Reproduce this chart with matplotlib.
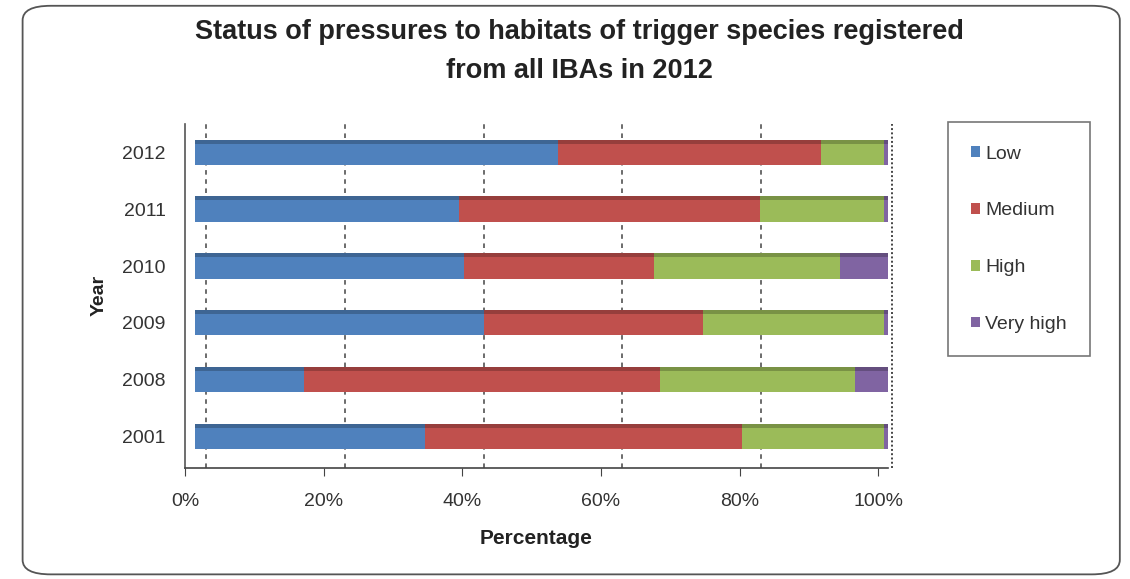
import numpy as np
import matplotlib
matplotlib.use("Agg")
import matplotlib.pyplot as plt
from matplotlib.patches import FancyBboxPatch
from matplotlib.colors import to_rgb

plt.rcParams['font.family'] = ['Liberation Sans', 'DejaVu Sans']

# data (percent of pressures per year)
years = ['2001', '2008', '2009', '2010', '2011', '2012']
low = [33.2, 15.8, 41.7, 38.9, 38.1, 52.4]
medium = [45.8, 51.4, 31.7, 27.3, 43.5, 38.0]
high = [20.4, 28.1, 26.0, 26.9, 17.8, 9.0]
very_high = [0.6, 4.7, 0.6, 6.9, 0.6, 0.6]

series = [('Low', low, '#4F81BD'),
          ('Medium', medium, '#C0504D'),
          ('High', high, '#9BBB59'),
          ('Very high', very_high, '#8064A2')]

fig = plt.figure(figsize=(11.3, 5.79), dpi=100)

# rounded frame around the whole chart
frame = FancyBboxPatch((0.02, 0.008), 0.971, 0.982, boxstyle="round,pad=0,rounding_size=0.025",
                       transform=fig.transFigure, fill=False, edgecolor='#555555', linewidth=1.3)
fig.patches.append(frame)

ax = fig.add_axes([0.1637, 0.192, 0.622, 0.594])

y = np.arange(len(years))
left = np.zeros(len(years))
for name, vals, col in series:
    vals = np.array(vals)
    ax.barh(y, vals, left=left, height=0.44, color=col, label=name, zorder=3)
    # darker top strip, a hint of the 3d bars
    dark = tuple(c * 0.78 for c in to_rgb(col))
    ax.barh(y + 0.19, vals, left=left, height=0.07, color=dark, zorder=4)
    left += vals

ax.set_xlim(-1, 100)
ax.set_ylim(-0.55, 5.5)
ax.set_xticks([-1.4, 18.6, 38.6, 58.6, 78.6, 98.6])
ax.set_xticklabels(['0%', '20%', '40%', '60%', '80%', '100%'], fontsize=14, color='#333333')
ax.set_yticks(y)
ax.set_yticklabels(years, fontsize=14, color='#333333')
ax.tick_params(axis='x', length=6, pad=12, color='#444444')
ax.tick_params(axis='y', length=0, pad=14)

for gx in [0, 20, 40, 60, 80]:
    ax.axvline(gx + 1.7, color='#444444', linestyle=(0, (3, 3)), linewidth=1.1, zorder=1)
ax.axvline(100.6, color='#444444', linestyle=(0, (1, 1.2)), linewidth=1.4, zorder=1, clip_on=False)

for s in ['top', 'right']:
    ax.spines[s].set_visible(False)
ax.spines['left'].set_color('#555555')
ax.spines['bottom'].set_color('#444444')
ax.spines['left'].set_linewidth(1.2)
ax.spines['bottom'].set_linewidth(1.2)

ax.set_xlabel('Percentage', fontsize=15, fontweight='bold', labelpad=14, color='#222222')
ax.set_ylabel('Year', fontsize=14, fontweight='bold', labelpad=10, color='#222222')

fig.text(0.513, 0.944, 'Status of pressures to habitats of trigger species registered',
         ha='center', va='center', fontsize=19.5, fontweight='bold', color='#222222')
fig.text(0.513, 0.878, 'from all IBAs in 2012',
         ha='center', va='center', fontsize=19.5, fontweight='bold', color='#222222')

leg = fig.legend(loc='upper left', bbox_to_anchor=(0.839, 0.789), borderaxespad=0, frameon=True,
                 fontsize=14, handlelength=0.45, handleheight=0.45, handletextpad=0.25,
                 labelspacing=2.05, borderpad=1.2, fancybox=False, edgecolor='#555555')
leg.get_frame().set_linewidth(1.2)
for t in leg.get_texts():
    t.set_color('#333333')

fig.savefig('out.png', dpi=100)
